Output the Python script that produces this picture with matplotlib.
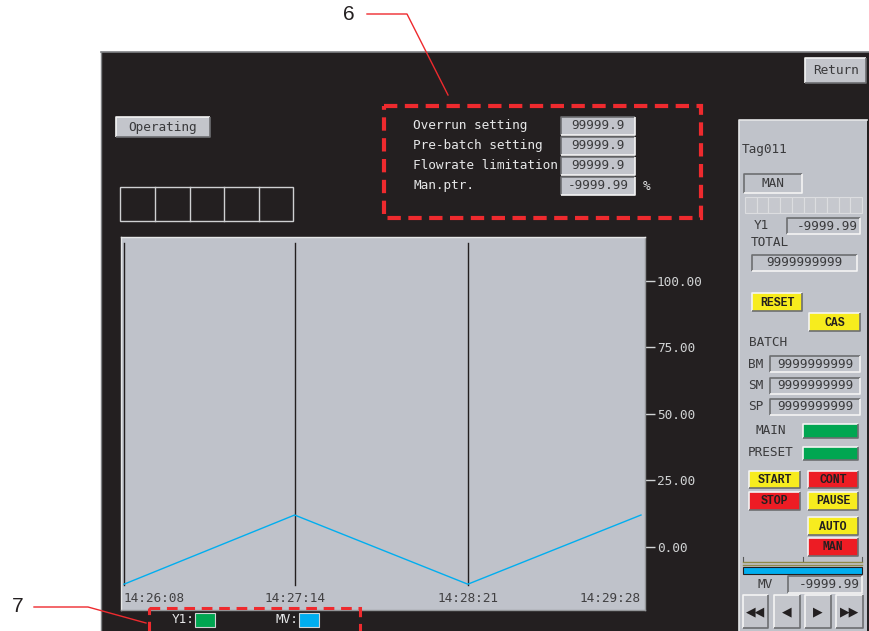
import matplotlib
matplotlib.use("Agg")
import matplotlib.pyplot as plt
from matplotlib.patches import Rectangle
from matplotlib.ticker import FormatStrFormatter
import matplotlib.transforms as mtransforms

# ── chart data ─────────────────────────────────────────────
time_labels = ["14:26:08", "14:27:14", "14:28:21", "14:29:28"]
time_sec = [0, 66, 133, 200]
mv_values = [-14.0, 12.0, -14.0, 12.0]
y_ticks = [0, 25, 50, 75, 100]

# ── screen texts ───────────────────────────────────────────
setting_labels = ["Overrun setting", "Pre-batch setting", "Flowrate limitation", "Man.ptr."]
setting_values = ["99999.9", "99999.9", "99999.9", "-9999.99"]
batch_labels = ["BM", "SM", "SP"]
batch_values = ["9999999999", "9999999999", "9999999999"]
legend_labels = ["Y1:", "MV:"]

DARK = "#231f20"
PANEL = "#c0c3ca"
CHART_BG = "#bfc2ca"
TXT_LIGHT = "#e6e7e8"
TXT_DARK = "#3a3a3c"
YELLOW = "#f7ec1e"
RED = "#ed1c24"
GREEN = "#00a651"
BLUE = "#00aeef"
ANN = "#ee2a2e"
MONO = ["DejaVu Sans Mono"]
BTN = ["Liberation Mono", "DejaVu Sans Mono"]

W, H = 869, 631
fig = plt.figure(figsize=(W / 100, H / 100), dpi=100, facecolor="white")

bg = fig.add_axes([0, 0, 1, 1])
bg.set_xlim(0, W); bg.set_ylim(H, 0); bg.axis("off")


def rect(ax, x0, y0, x1, y1, fc="none", ec="none", lw=1.0, z=1, **kw):
    ax.add_patch(Rectangle((x0, y0), x1 - x0, y1 - y0, fc=fc, ec=ec, lw=lw, zorder=z, **kw))


def bevel(ax, x0, y0, x1, y1, fc, raised=True, z=2):
    light, dark = ("#f4f4f4", "#6d6e71") if raised else ("#6d6e71", "#f4f4f4")
    rect(ax, x0, y0, x1, y1, fc=fc, z=z)
    ax.plot([x0, x0, x1], [y1, y0, y0], color=light, lw=1.2, zorder=z + 0.1, solid_capstyle="butt")
    ax.plot([x0, x1, x1], [y1, y1, y0], color=dark, lw=1.2, zorder=z + 0.1, solid_capstyle="butt")


def txt(ax, x, y, s, color=TXT_LIGHT, size=9.2, ha="left", family=MONO, weight="normal", z=5):
    ax.text(x, y, s, color=color, fontsize=size, ha=ha, va="center", family=family,
            weight=weight, zorder=z)


# ── dark screen ────────────────────────────────────────────
rect(bg, 101, 52, W + 2, H + 2, fc=DARK, z=0)
bg.plot([101, W], [52, 52], color="#808285", lw=1.2, zorder=0.5)
bg.plot([101, 101], [52, H], color="#808285", lw=1.0, zorder=0.5)

# Operating button + status boxes
bevel(bg, 116, 117, 210, 137, "#c3c5cb")
txt(bg, 163, 127.5, "Operating", color=TXT_DARK, ha="center")
rect(bg, 120, 187, 293, 221, ec="#cfd0d2", lw=1.0)
for xd in [155, 190, 224, 259]:
    bg.plot([xd, xd], [187, 221], color="#cfd0d2", lw=1.0)

# settings block
for i, (lab, val) in enumerate(zip(setting_labels, setting_values)):
    yc = 125.5 + 20 * i
    txt(bg, 413, yc, lab)
    bevel(bg, 561, yc - 9, 635, yc + 9, "#c2c4cb", raised=False)
    txt(bg, 598, yc, val, color=TXT_DARK, ha="center")
txt(bg, 643, 186, "%")

# Return button
bevel(bg, 805, 58, 866, 83, "#c3c5cb")
txt(bg, 835.5, 70.5, "Return", color=TXT_DARK, ha="center")

# ── right control panel ────────────────────────────────────
rect(bg, 739, 120, 867, H + 2, fc=PANEL, z=1)
bg.plot([739, 739, 867], [H, 120, 120], color="#e6e7e8", lw=1.2, zorder=1.1)
txt(bg, 742, 150, "Tag011", color=TXT_DARK)
bevel(bg, 744, 174, 802, 193, PANEL, raised=False)
txt(bg, 773, 183.5, "MAN", color=TXT_DARK, ha="center")
cw = (862 - 745) / 10
for k in range(10):
    rect(bg, 745 + k * cw, 197, 745 + (k + 1) * cw, 213, fc="#c6c8ce", ec="#dcdde0", lw=0.8, z=2)
txt(bg, 754, 225.5, "Y1", color=TXT_DARK)
bevel(bg, 787, 218, 860, 234, PANEL, raised=False)
txt(bg, 858, 226, "-9999.99", color=TXT_DARK, ha="right")
txt(bg, 751, 243, "TOTAL", color=TXT_DARK)
bevel(bg, 752, 255, 857, 271, PANEL, raised=False)
txt(bg, 804.5, 263, "9999999999", color=TXT_DARK, ha="center")


def button(x0, y0, x1, y1, fc, label):
    bevel(bg, x0, y0, x1, y1, fc)
    txt(bg, (x0 + x1) / 2, (y0 + y1) / 2 + 0.5, label, color="#231f20", size=8.3,
        ha="center", family=BTN, weight="bold")


button(752, 293, 802, 311, YELLOW, "RESET")
button(809, 313, 860, 331, YELLOW, "CAS")
txt(bg, 749, 342, "BATCH", color=TXT_DARK)
for i, (lab, val) in enumerate(zip(batch_labels, batch_values)):
    yc = 364 + 21.5 * i
    txt(bg, 748, yc, lab, color=TXT_DARK)
    bevel(bg, 770, yc - 8, 860, yc + 8, PANEL, raised=False)
    txt(bg, 815, yc, val, color=TXT_DARK, ha="center")
txt(bg, 755, 431, "MAIN", color=TXT_DARK)
bevel(bg, 803, 424, 858, 438, GREEN)
txt(bg, 748, 453, "PRESET", color=TXT_DARK)
bevel(bg, 803, 447, 858, 460, GREEN)
button(749, 471, 800, 488, YELLOW, "START")
button(808, 471, 858, 488, RED, "CONT")
button(749, 492, 800, 510, RED, "STOP")
button(808, 492, 858, 510, YELLOW, "PAUSE")
button(808, 517, 858, 535, YELLOW, "AUTO")
button(808, 538, 858, 556, RED, "MAN")

for xt in [743, 803, 862]:
    bg.plot([xt, xt], [557, 561], color="#58595b", lw=0.8, zorder=3)
bg.plot([743, 862], [562, 562], color="#8d8a4a", lw=1.0, zorder=3)
bg.plot([743, 862], [564.5, 564.5], color="#8d8a4a", lw=1.0, zorder=3)
rect(bg, 743, 567, 862, 574, fc=BLUE, ec="#231f20", lw=0.8, z=3)
txt(bg, 757, 584, "MV", color=TXT_DARK)
bevel(bg, 788, 576, 862, 593, PANEL, raised=False)
txt(bg, 860, 584.5, "-9999.99", color=TXT_DARK, ha="right")
for (x0, x1), glyph in zip([(743, 768), (774, 800), (805, 831), (836, 863)],
                           ["◀◀", "◀", "▶", "▶▶"]):
    bevel(bg, x0, 595, x1, 628, "#c3c5cb")
    bg.text((x0 + x1) / 2, 612, glyph, fontsize=9, ha="center", va="center",
            family=["DejaVu Sans"], color="#231f20", zorder=5)

# ── legend under the chart ─────────────────────────────────
for lab, xl, xb, col in zip(legend_labels, [172, 276], [195, 299], [GREEN, BLUE]):
    txt(bg, xl, 619.5, lab)
    rect(bg, xb, 613, xb + 20, 627, fc=col, ec="#d1d3d4", lw=0.8, z=3)

# ── trend chart ────────────────────────────────────────────
x0p, x1p, y0p, y1p = 121, 645, 237, 610
ax = fig.add_axes([x0p / W, 1 - y1p / H, (x1p - x0p) / W, (y1p - y0p) / H])
ax.set_facecolor(CHART_BG)
ax.set_xlim(-1.16, 201.55)
ax.set_ylim(-23.7, 116.5)
for s in ax.spines.values():
    s.set_color("#939598"); s.set_linewidth(1.0)
ax.spines["top"].set_color("#e6e7e8")
ax.spines["left"].set_color("#e6e7e8")

for t in time_sec[:3]:
    ax.axvline(t, ymin=0.067, ymax=0.984, color="#231f20", lw=1.0)
ax.plot(time_sec, mv_values, color=BLUE, lw=1.0)

ax.set_xticks([])
ax.yaxis.tick_right()
ax.set_yticks(y_ticks)
ax.yaxis.set_major_formatter(FormatStrFormatter("%.2f"))
ax.tick_params(axis="y", direction="out", length=7.5, width=1.0, color="#d1d3d4",
               labelcolor="#d1d3d4", labelsize=9.2, pad=1)
for lab in ax.get_yticklabels():
    lab.set_family(MONO)

trans = mtransforms.blended_transform_factory(ax.transData, ax.transAxes)
for t, lab, ha in zip(time_sec, time_labels, ["left", "center", "center", "right"]):
    ax.text(t, 0.032, lab, transform=trans, ha=ha, va="center", color="#414042",
            fontsize=9.2, family=MONO)

# ── callouts 6 and 7 ───────────────────────────────────────
top = fig.add_axes([0, 0, 1, 1])
top.set_xlim(0, W); top.set_ylim(H, 0); top.axis("off")
top.patch.set_alpha(0)

top.add_patch(Rectangle((384, 106), 317, 112, fc="none", ec=ANN, lw=3.0,
                        linestyle=(0, (3.2, 1.8)), joinstyle="miter"))
top.text(349, 15, "6", fontsize=15, ha="center", va="center", family=["Liberation Sans"],
         color="#231f20")
top.plot([367, 407, 448], [14, 14, 95], color=ANN, lw=1.0)

top.add_patch(Rectangle((149, 608), 211, 40, fc="none", ec=ANN, lw=2.2,
                        linestyle=(0, (3.5, 2.2)), joinstyle="miter", clip_on=True))
top.text(18, 607, "7", fontsize=15, ha="center", va="center", family=["Liberation Sans"],
         color="#231f20")
top.plot([34, 88, 146], [607, 607, 623], color=ANN, lw=1.0)

fig.savefig("out.png", dpi=100, facecolor="white")
plt.close(fig)
